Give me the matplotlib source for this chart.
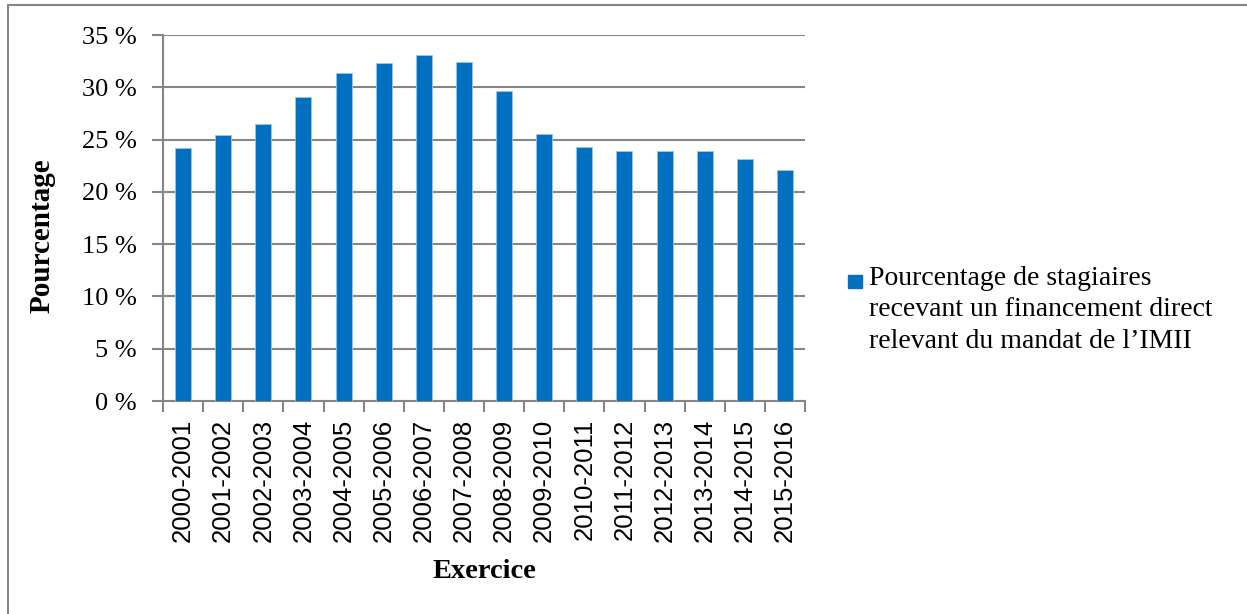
import matplotlib.pyplot as plt
from matplotlib.patches import Rectangle

exercices = ["2000-2001", "2001-2002", "2002-2003", "2003-2004", "2004-2005",
             "2005-2006", "2006-2007", "2007-2008", "2008-2009", "2009-2010",
             "2010-2011", "2011-2012", "2012-2013", "2013-2014", "2014-2015",
             "2015-2016"]
pourcentages = [24.2, 25.4, 26.5, 29.1, 31.4, 32.3, 33.1, 32.4, 29.6, 25.5,
                24.3, 23.9, 23.9, 23.9, 23.1, 22.1]
yticks = [0, 5, 10, 15, 20, 25, 30, 35]
legende = "Pourcentage de stagiaires\nrecevant un financement direct\nrelevant du mandat de l\u2019IMII"

bleu = "#0070C0"
gris = "#868686"
serif = ["Liberation Serif", "DejaVu Serif"]

fig = plt.figure(figsize=(12.47, 6.14), dpi=100)
ax = fig.add_axes([163 / 1247, 1 - 401 / 614, (805 - 163) / 1247, (401 - 35) / 614])

x = list(range(len(exercices)))
ax.bar(x, pourcentages, width=0.4, color=bleu, edgecolor="#9DC3E6", linewidth=0.6, zorder=3)

ax.set_xlim(-0.5, len(exercices) - 0.5)
ax.set_ylim(0, 35)
ax.set_yticks(yticks)
ax.set_yticklabels([str(v) + " %" for v in yticks], fontfamily=serif, fontsize=19)
ax.yaxis.grid(True, color=gris, linewidth=1.5, zorder=0)
ax.tick_params(axis="y", length=8, width=1.5, color=gris, pad=11)

ax.set_xticks(x)
ax.set_xticklabels(exercices, rotation=90, fontfamily=["Liberation Sans"], fontsize=18.5)
ax.set_xticks([i - 0.5 for i in range(len(exercices) + 1)], minor=True)
ax.tick_params(axis="x", which="major", length=0, pad=13)
ax.tick_params(axis="x", which="minor", length=8, width=1.5, color=gris)

for s in ["top", "right"]:
    ax.spines[s].set_visible(False)
for s in ["left", "bottom"]:
    ax.spines[s].set_color(gris)
    ax.spines[s].set_linewidth(1.5)

fig.text(484 / 1247, 1 - 572 / 614, "Exercice", fontfamily=serif, fontsize=20.5,
         fontweight="bold", ha="center", va="center")
fig.text(42 / 1247, 1 - 236 / 614, "Pourcentage", fontfamily=serif, fontsize=21,
         fontweight="bold", ha="center", va="center", rotation=90)

# legende
fig.patches.append(Rectangle((848 / 1247, 1 - 288 / 614), 14 / 1247, 13 / 614,
                             transform=fig.transFigure, color=bleu))
fig.text(869 / 1247, 1 - 266 / 614, legende, fontfamily=serif, fontsize=20,
         ha="left", va="top", linespacing=1.33)

# cadre
fig.patches.append(Rectangle((8 / 1247, -0.05), 1.1, 1 - 5 / 614 + 0.05,
                             transform=fig.transFigure, fill=False,
                             edgecolor=gris, linewidth=1.5))

fig.savefig("out.png", dpi=100)
